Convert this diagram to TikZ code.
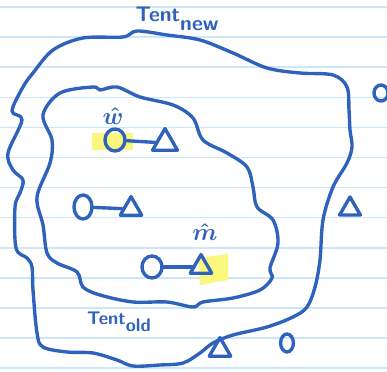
\documentclass[tikz,border=0pt]{standalone}
\usepackage{amsmath,amssymb}
\usepackage{xcolor}
\usepackage{tikz}
\usetikzlibrary{shapes.geometric}
\definecolor{ink}{HTML}{2F62BC}
\definecolor{rule}{HTML}{CCE7F9}
\definecolor{marker}{HTML}{FBF77C}

\begin{document}
\begin{tikzpicture}[x=0.025cm, y=-0.025cm, every node/.style={font=\sffamily, text=ink},
      pen/.style={draw=ink, line width=2.4pt, line cap=round, line join=round},
      dot/.style={pen, ellipse, inner sep=0pt, minimum width=0.5cm, minimum height=0.55cm},
      tri/.style={pen, regular polygon, regular polygon sides=3, inner sep=0pt, minimum size=0.72cm},
      tent/.style={pen, smooth cycle, tension=0.55}]
    \useasboundingbox (0,0) rectangle (387,372);
    % lined paper
    \foreach \k in {0,...,12}
      \draw[rule, line width=1pt] (0,7+30.1*\k) -- (387,7+30.1*\k);
    % highlighter
    \fill[marker] (92,133) rectangle (133,150);
    \fill[marker] (198,258) -- (228,254) -- (228,280) -- (200,285) -- cycle;
    % Tent_new
    \draw[tent] plot coordinates {(137,31) (167,35) (200,40) (233,53) (267,68) (300,73) (333,75)
      (347,87) (349,110) (350,130) (352,147) (347,163) (333,187) (323,220) (320,260) (315,287)
      (307,307) (293,317) (267,327) (233,335) (213,343) (200,353) (183,363) (160,365) (133,366)
      (117,360) (93,353) (67,352) (43,347) (37,333) (33,290) (32,267) (27,258) (16,248) (15,207)
      (20,193) (23,180) (13,170) (8,153) (22,120) (12,111) (23,87) (33,73) (53,50) (83,38) (123,37)};
    % Tent_old
    \draw[tent] plot coordinates {(100,90) (117,87) (140,97) (173,105) (193,118) (203,140)
      (227,153) (247,167) (253,187) (257,207) (273,220) (278,243) (270,268) (272,278) (260,290)
      (233,298) (203,302) (193,307) (167,302) (133,302) (100,295) (83,287) (77,272) (57,263)
      (47,253) (43,225) (37,197) (50,163) (52,140) (43,115) (60,93) (93,87)};
    % words and objects
    \node[dot] (c1) at (115,140) {};
    \node[tri] (t1) at (165,143) {};
    \node[dot, minimum width=0.45cm, minimum height=0.6cm] (c2) at (83,207) {};
    \node[tri, minimum size=0.62cm] (t2) at (131,209) {};
    \node[dot] (c3) at (152,267) {};
    \node[tri, minimum size=0.62cm] (t3) at (201,267) {};
    \node[tri, minimum size=0.6cm] (t4) at (350,209) {};
    \node[tri, minimum size=0.62cm] (t5) at (220,350) {};
    \node[dot, minimum width=0.35cm, minimum height=0.4cm] (c4) at (381,93) {};
    \node[dot, minimum width=0.32cm, minimum height=0.45cm] (c5) at (287,343) {};
    \draw[pen] (c1) -- (t1);
    \draw[pen] (c2) -- (t2);
    \draw[pen] (c3) -- (t3);
    % labels
    \node[font=\LARGE\boldmath, inner sep=0pt] (w) at (113,116) {$\hat{w}$};
    \node[font=\LARGE\boldmath, inner sep=0pt] (m) at (205,232) {$\hat{m}$};
    \node[font=\fontsize{15}{18}\sffamily\bfseries] (tnew) at (177,19) {Tent\raisebox{-0.9ex}{new}};
    \node[font=\fontsize{13}{16}\sffamily\bfseries] (told) at (119,322) {Tent\raisebox{-0.9ex}{old}};
  \end{tikzpicture}
\end{document}
